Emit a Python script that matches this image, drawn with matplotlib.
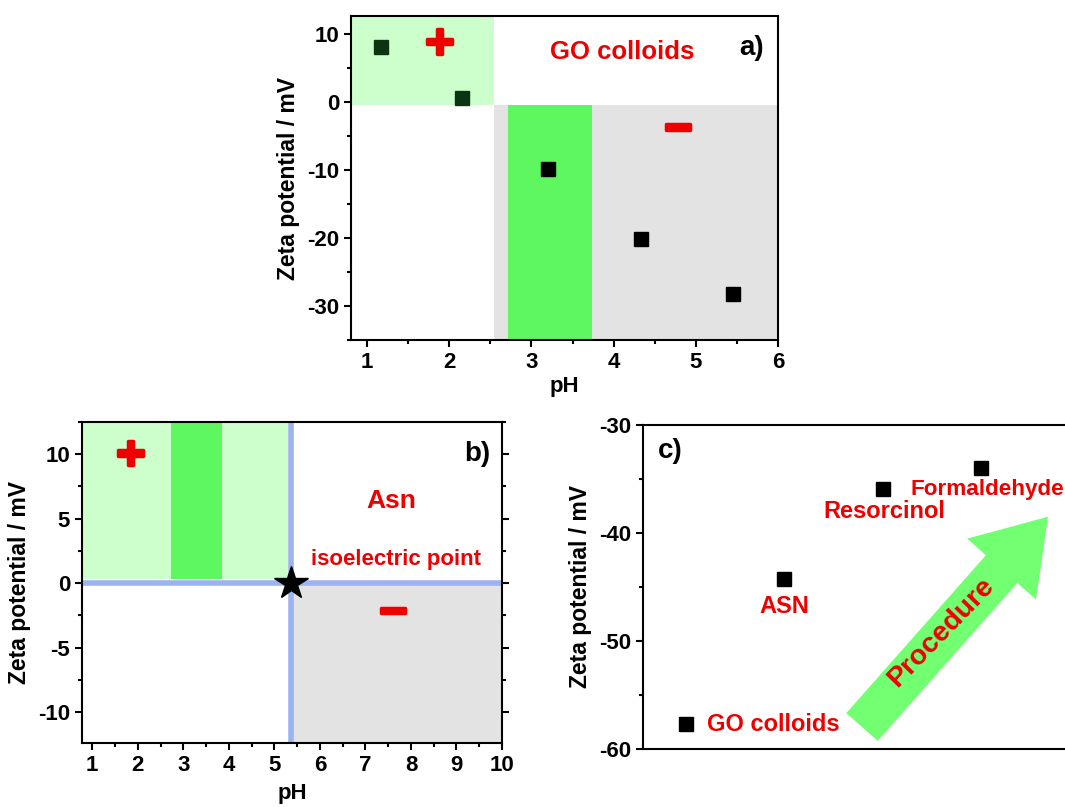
import matplotlib
matplotlib.use("Agg")
import matplotlib.pyplot as plt
from matplotlib.ticker import MultipleLocator
from matplotlib.patches import Rectangle, FancyArrow
import matplotlib.patheffects as pe

plt.rcParams['font.family'] = ['Liberation Sans', 'DejaVu Sans']
plt.rcParams['font.weight'] = 'bold'
plt.rcParams['axes.labelweight'] = 'bold'
plt.rcParams['axes.unicode_minus'] = False

# ---- data ----
ph_a = [1.17, 2.15, 3.2, 4.33, 5.45]
zeta_a = [8.2, 0.6, -9.8, -20.2, -28.2]
colors_a = ['#0b3512', '#0b3512', 'black', 'black', 'black']

iep_b = 5.36
steps_c = ['GO colloids', 'ASN', 'Resorcinol', 'Formaldehyde']
zeta_c = [-57.7, -44.3, -35.9, -34.0]

LIGHT = '#ccffcc'
BRIGHT = '#5ff75f'
GREY = '#e3e3e3'
BLUE = '#9db3f0'
RED = '#ee0000'

W, H = 1065, 807
fig = plt.figure(figsize=(W / 100, H / 100), dpi=100)
thick = [pe.withStroke(linewidth=2.5, foreground=RED)]


def fax(l, t, r, b):
    return fig.add_axes([l / W, 1 - b / H, (r - l) / W, (b - t) / H])


def style(ax):
    for s in ax.spines.values():
        s.set_linewidth(1.5)
    ax.tick_params(which='major', direction='out', length=5, width=1.5, labelsize=16)
    ax.tick_params(which='minor', direction='out', length=3, width=1.5)
    for lab in ax.get_xticklabels() + ax.get_yticklabels():
        lab.set_fontweight('bold')


def sign(ax, x, y, s):
    ax.text(x, y, s, color=RED, fontsize=35, fontweight='bold', ha='center',
            va='center', path_effects=thick)


# ---- panel a ----
ax = fax(351, 16, 778, 340)
ax.set_xlim(0.805, 6)
ax.set_ylim(-35, 12.7)
ax.add_patch(Rectangle((0.805, -0.4), 2.545 - 0.805, 13.1, color=LIGHT, lw=0, zorder=0))
ax.add_patch(Rectangle((2.545, -35), 6 - 2.545, 34.6, color=GREY, lw=0, zorder=0))
ax.add_patch(Rectangle((2.72, -35), 1.02, 34.6, color=BRIGHT, lw=0, zorder=0))
for x, y, c in zip(ph_a, zeta_a, colors_a):
    ax.plot(x, y, 's', color=c, ms=9.5, zorder=3)
ax.xaxis.set_major_locator(MultipleLocator(1))
ax.xaxis.set_minor_locator(MultipleLocator(0.5))
ax.yaxis.set_major_locator(MultipleLocator(10))
ax.yaxis.set_minor_locator(MultipleLocator(5))
sign(ax, 1.88, 8.4, '+')
sign(ax, 4.78, -4.2, '\u2212')
ax.text(4.11, 7.4, 'GO colloids', color=RED, fontsize=18.5, fontweight='bold', ha='center', va='center')
ax.text(5.68, 8.0, 'a)', color='black', fontsize=20, fontweight='bold', ha='center', va='center')
ax.set_xlabel('pH', fontsize=16, labelpad=2)
ax.set_ylabel('Zeta potential / mV', fontsize=16.5, labelpad=5)
style(ax)

# ---- panel b ----
ax = fax(82, 422, 502, 743)
ax.set_xlim(0.775, 10)
ax.set_ylim(-12.4, 12.5)
ax.add_patch(Rectangle((0.775, 0.3), 5.3 - 0.775, 12.2, color=LIGHT, lw=0, zorder=0))
ax.add_patch(Rectangle((2.73, 0.3), 3.85 - 2.73, 12.2, color=BRIGHT, lw=0, zorder=0))
ax.add_patch(Rectangle((5.4, -12.4), 10 - 5.4, 12.4, color=GREY, lw=0, zorder=0))
ax.axvline(iep_b, color=BLUE, lw=4, zorder=1)
ax.axhline(0, color=BLUE, lw=4, zorder=1)
ax.plot(iep_b, 0, '*', color='black', ms=25, zorder=3)
ax.xaxis.set_major_locator(MultipleLocator(1))
ax.xaxis.set_minor_locator(MultipleLocator(0.5))
ax.yaxis.set_major_locator(MultipleLocator(5))
ax.yaxis.set_minor_locator(MultipleLocator(2.5))
ax.tick_params(axis='y', which='both', right=True)
sign(ax, 1.84, 9.8, '+')
sign(ax, 7.6, -2.4, '\u2212')
ax.text(7.57, 6.4, 'Asn', color=RED, fontsize=19, fontweight='bold', ha='center', va='center')
ax.text(7.67, 1.8, 'isoelectric point', color=RED, fontsize=16, fontweight='bold', ha='center', va='center')
ax.text(9.46, 10, 'b)', color='black', fontsize=20, fontweight='bold', ha='center', va='center')
ax.set_xlabel('pH', fontsize=16, labelpad=5)
ax.set_ylabel('Zeta potential / mV', fontsize=16.5, labelpad=5)
style(ax)

# ---- panel c ----
ax = fax(643, 425, 1090, 749)
ax.set_xlim(0.56, 5.11)
ax.set_ylim(-60, -30)
xs = list(range(1, len(steps_c) + 1))
ax.plot(xs, zeta_c, 's', color='black', ms=9.5, zorder=3, clip_on=False)
ax.set_xticks([])
ax.yaxis.set_major_locator(MultipleLocator(10))
ax.yaxis.set_minor_locator(MultipleLocator(5))
ax.text(xs[0] + 0.21, zeta_c[0], steps_c[0], color=RED, fontsize=17, fontweight='bold', ha='left', va='center')
ax.text(xs[1], zeta_c[1] - 2.55, steps_c[1], color=RED, fontsize=17, fontweight='bold', ha='center', va='center')
ax.text(xs[2] + 0.02, zeta_c[2] - 2.1, steps_c[2], color=RED, fontsize=17, fontweight='bold', ha='center', va='center')
ax.text(xs[3] - 0.72, zeta_c[3] - 2.0, steps_c[3], color=RED, fontsize=16.2, fontweight='bold', ha='left', va='center')
ax.text(0.06, 0.92, 'c)', transform=ax.transAxes, color='black', fontsize=20, fontweight='bold', ha='center', va='center')
# procedure arrow (pixel space overlay)
ax_arrow = fig.add_axes([0, 0, 1, 1], facecolor='none')
ax_arrow.set_xlim(0, W)
ax_arrow.set_ylim(H, 0)
ax_arrow.axis('off')
tail = (862, 727)
tip = (1048, 516.7)
ax_arrow.add_patch(FancyArrow(tail[0], tail[1], tip[0] - tail[0], tip[1] - tail[1],
                              width=42, head_width=92, head_length=70,
                              length_includes_head=True, color='#72ff72', lw=0))
ax_arrow.text(941, 632, 'Procedure', color=RED, fontsize=20.5, fontweight='bold',
              rotation=46, ha='center', va='center', rotation_mode='anchor')
ax.spines['right'].set_visible(False)
ax.set_ylabel('Zeta potential / mV', fontsize=16.5, labelpad=5)
style(ax)

fig.savefig('out.png', dpi=100)
